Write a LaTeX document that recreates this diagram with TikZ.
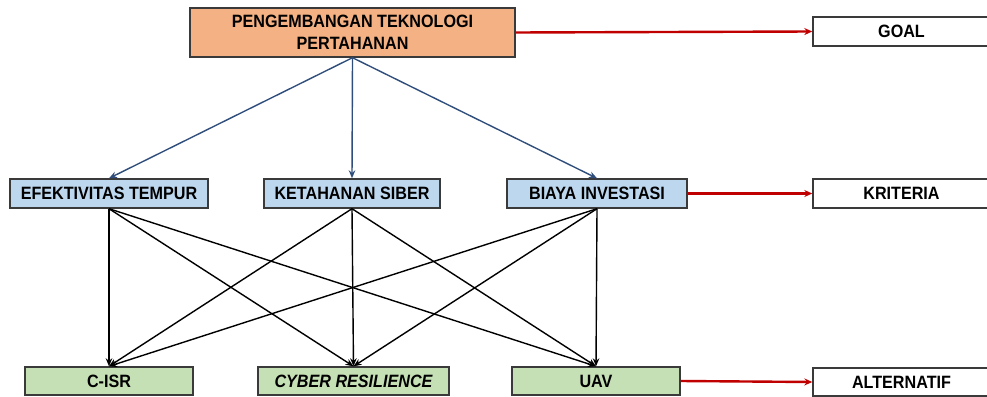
\documentclass[tikz,border=0pt]{standalone}
\usepackage{fontspec}
\setmainfont{Liberation Sans}
\usetikzlibrary{arrows.meta}
\definecolor{orangefill}{HTML}{F4B183}
\definecolor{bluefill}{HTML}{BDD7EE}
\definecolor{greenfill}{HTML}{C5E0B4}
\definecolor{bordergray}{HTML}{3A3A3A}
\definecolor{bluearrow}{HTML}{2F4E7C}
\definecolor{redarrow}{HTML}{C00000}
\tikzset{
  box/.style={draw=bordergray, line width=1.4pt, inner sep=0pt, align=center,
    font=\fontsize{17}{22}\selectfont\bfseries},
  goalbox/.style={box, fill=orangefill},
  critbox/.style={box, fill=bluefill, minimum height=29pt},
  altbox/.style={box, fill=greenfill, minimum height=28pt},
  levelbox/.style={box, fill=white, minimum width=177pt, minimum height=29pt},
  bluearr/.style={draw=bluearrow, line width=1.4pt, -{Stealth[length=8pt,width=6.5pt]}},
  blackarr/.style={draw=black, line width=1.4pt, -{Stealth[length=8pt,width=6.5pt]}},
  redarr/.style={draw=redarrow, line width=2.4pt, -{Stealth[length=8pt,width=7pt]}},
}
\newcommand{\sq}[1]{\scalebox{0.95}[1.05]{#1}}
\begin{document}
\begin{tikzpicture}[x=1pt,y=-1pt]
\useasboundingbox (0,0) rectangle (987,396);
% goal
\node[goalbox, minimum width=325pt, minimum height=49pt] (top) at (352.5,32.5) {\sq{PENGEMBANGAN TEKNOLOGI}\\\sq{PERTAHANAN}};
% criteria
\node[critbox, minimum width=198pt] (efek) at (109,193.5) {\sq{EFEKTIVITAS TEMPUR}};
\node[critbox, minimum width=176pt] (keta) at (352,193.5) {\sq{KETAHANAN SIBER}};
\node[critbox, minimum width=180pt] (biaya) at (597,193.5) {\sq{BIAYA INVESTASI}};
% alternatives
\node[altbox, minimum width=168pt] (cisr) at (109,381) {\sq{C-ISR}};
\node[altbox, minimum width=191pt] (cyber) at (353.5,381) {\sq{\itshape CYBER RESILIENCE}};
\node[altbox, minimum width=168pt] (uav) at (596,381) {\sq{UAV}};
% level labels
\node[levelbox] (goal) at (901.5,31.5) {\sq{GOAL}};
\node[levelbox] (krit) at (901.5,193.5) {\sq{KRITERIA}};
\node[levelbox, minimum height=28pt] (alt) at (901.5,382) {\sq{ALTERNATIF}};
% blue arrows
\draw[bluearr] (top.south) -- (efek.north);
\draw[bluearr] (top.south) -- (keta.north);
\draw[bluearr] (top.south) -- (biaya.north);
% black arrows
\foreach \c in {efek,keta,biaya}{
  \foreach \a in {cisr,cyber,uav}{
    \draw[blackarr] (\c.south) -- (\a.north);
  }
}
% red arrows
\draw[redarr] (top.east) -- (goal.west);
\draw[redarr] (biaya.east) -- (krit.west);
\draw[redarr] (uav.east) -- (alt.west);
\end{tikzpicture}
\end{document}
